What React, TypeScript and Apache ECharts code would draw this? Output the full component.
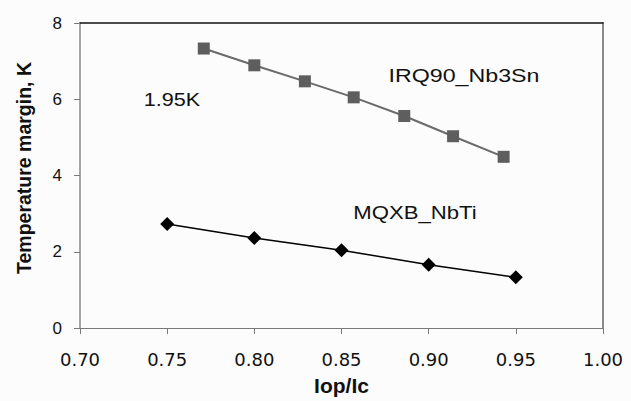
import React, { useEffect, useRef } from "react";
import * as echarts from "echarts";

const irqX = [0.771, 0.8, 0.829, 0.857, 0.886, 0.914, 0.943];
const irqY = [7.33, 6.89, 6.47, 6.05, 5.56, 5.03, 4.49];
const mqxbX = [0.75, 0.8, 0.85, 0.9, 0.95];
const mqxbY = [2.73, 2.36, 2.04, 1.66, 1.33];
const xTickLabels = ["0.70", "0.75", "0.80", "0.85", "0.90", "0.95", "1.00"];
const yTickLabels = ["0", "2", "4", "6", "8"];
const seriesNames = ["IRQ90_Nb3Sn", "MQXB_NbTi"];
const noteText = "1.95K";
const xName = "Iop/Ic";
const yName = "Temperature margin, K";

export default function App() {
  const ref = useRef<HTMLDivElement>(null);
  useEffect(() => {
    if (!ref.current) return;
    const chart = echarts.init(ref.current, undefined, { renderer: "svg" });
    const xMin = Number(xTickLabels[0]);
    const xMax = Number(xTickLabels[xTickLabels.length - 1]);
    const yMin = Number(yTickLabels[0]);
    const yMax = Number(yTickLabels[yTickLabels.length - 1]);
    const annFont = '18px "Liberation Sans", Arial, sans-serif';
    chart.setOption({
      animation: false,
      backgroundColor: "#fcfcfc",
      grid: { left: 80, right: 28, top: 23, bottom: 73 },
      xAxis: [
        {
          type: "value",
          min: xMin,
          max: xMax,
          interval: 0.05,
          name: xName,
          nameLocation: "middle",
          nameGap: 47,
          nameTextStyle: {
            fontFamily: '"Liberation Sans", Arial, sans-serif',
            fontWeight: "bold",
            fontSize: 21,
            color: "#111",
          },
          axisLine: { show: true, onZero: false, lineStyle: { color: "#7a7a7a", width: 1 } },
          axisTick: { show: true, inside: false, length: 6, lineStyle: { color: "#7a7a7a" } },
          axisLabel: {
            margin: 22,
            fontFamily: '"DejaVu Sans", sans-serif',
            fontSize: 18,
            color: "#111",
            formatter: (v: number) => {
              const i = Math.round((v - xMin) / 0.05);
              return xTickLabels[i] ?? v.toFixed(2);
            },
          },
          splitLine: { show: false },
        },
        {
          type: "value",
          position: "top",
          min: xMin,
          max: xMax,
          axisLine: { show: true, onZero: false, lineStyle: { color: "#111", width: 1.5 } },
          axisTick: { show: false },
          axisLabel: { show: false },
          splitLine: { show: false },
        },
      ],
      yAxis: [
        {
          type: "value",
          min: yMin,
          max: yMax,
          interval: 2,
          name: yName,
          nameLocation: "middle",
          nameGap: 46,
          nameTextStyle: {
            fontFamily: '"Liberation Sans", Arial, sans-serif',
            fontWeight: "bold",
            fontSize: 19.5,
            color: "#111",
            padding: [0, 0, 0, 15],
          },
          axisLine: { show: true, onZero: false, lineStyle: { color: "#8a8a8a", width: 1.5 } },
          axisTick: { show: true, inside: false, length: 6, lineStyle: { color: "#7a7a7a" } },
          axisLabel: {
            margin: 18,
            fontFamily: '"Liberation Sans", Arial, sans-serif',
            fontSize: 17,
            color: "#111",
            formatter: (v: number) => {
              const i = Math.round((v - yMin) / 2);
              return yTickLabels[i] ?? String(v);
            },
          },
          splitLine: { show: false },
        },
        {
          type: "value",
          position: "right",
          min: yMin,
          max: yMax,
          axisLine: { show: true, onZero: false, lineStyle: { color: "#8a8a8a", width: 2 } },
          axisTick: { show: false },
          axisLabel: { show: false },
          splitLine: { show: false },
        },
      ],
      series: [
        {
          name: seriesNames[0],
          type: "line",
          xAxisIndex: 0,
          yAxisIndex: 0,
          data: irqX.map((x, i) => [x, irqY[i]]),
          symbol: "rect",
          symbolSize: 12,
          lineStyle: { color: "#6a6a6a", width: 2 },
          itemStyle: { color: "#5e5e5e" },
        },
        {
          name: seriesNames[1],
          type: "line",
          xAxisIndex: 0,
          yAxisIndex: 0,
          data: mqxbX.map((x, i) => [x, mqxbY[i]]),
          symbol: "diamond",
          symbolSize: 14,
          lineStyle: { color: "#000", width: 1.5 },
          itemStyle: { color: "#000" },
        },
      ],
      graphic: [
        {
          type: "text",
          x: 172,
          y: 100,
          scaleX: 1.2,
          style: { text: noteText, font: annFont, fill: "#111", align: "center", verticalAlign: "middle" },
        },
        {
          type: "text",
          x: 464,
          y: 76,
          scaleX: 1.29,
          style: { text: seriesNames[0], font: annFont, fill: "#111", align: "center", verticalAlign: "middle" },
        },
        {
          type: "text",
          x: 415,
          y: 213,
          scaleX: 1.23,
          style: { text: seriesNames[1], font: annFont, fill: "#111", align: "center", verticalAlign: "middle" },
        },
      ],
    });
    return () => chart.dispose();
  }, []);
  return (
    <div
      ref={ref}
      style={{ position: "fixed", left: 0, top: 0, width: 631, height: 401 }}
    />
  );
}
